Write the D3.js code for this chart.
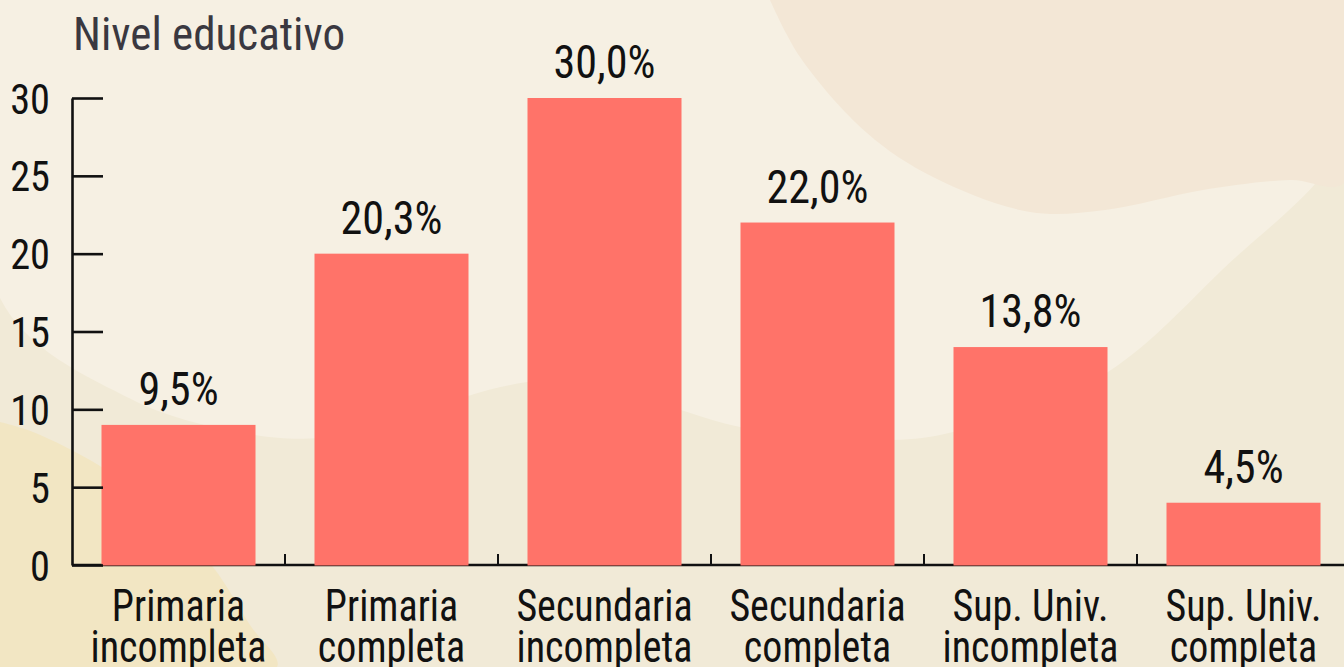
<!DOCTYPE html>
<html>
<head>
<meta charset="utf-8">
<script src="https://cdn.jsdelivr.net/npm/d3@7"></script>
<style>
  html, body { margin: 0; padding: 0; background: #f1ead7; overflow: hidden; }
  text { font-family: "Roboto Condensed", Roboto, "Liberation Sans", sans-serif; }
</style>
</head>
<body>
<div id="chart"></div>
<script>
// Chart data
var categories = ["Primaria incompleta", "Primaria completa", "Secundaria incompleta",
  "Secundaria completa", "Sup. Univ. incompleta", "Sup. Univ. completa"];
var values = [9, 20, 30, 22, 14, 4];
var valueLabels = ["9,5%", "20,3%", "30,0%", "22,0%", "13,8%", "4,5%"];
var yTicks = [0, 5, 10, 15, 20, 25, 30];
var title = "Nivel educativo";

var W = 1344, H = 667;
var margin = { top: 98, right: -6, bottom: 102, left: 72 };

var svg = d3.select("#chart")
  .append("svg")
  .attr("width", W)
  .attr("height", H);

// Decorative background blobs
var curve = d3.line().curve(d3.curveCatmullRom.alpha(0.5));
svg.append("rect").attr("width", W).attr("height", H).attr("fill", "#f1ead7");

svg.append("path")
  .attr("fill", "#f6f0e3")
  .attr("d", curve([[0, 0], [0, 298], [133, 400], [255, 435], [320, 438], [400, 425], [468, 396],
    [527, 382], [590, 377], [681, 410], [740, 427], [820, 437], [893, 440], [953, 432],
    [1100, 377], [1222, 270], [1344, 140], [1344, 0]]) + "Z");

svg.append("path")
  .attr("fill", "#f3e7d6")
  .attr("d", curve([[770, 0], [800, 57], [867, 133], [933, 177], [1030, 212], [1105, 210],
    [1203, 190], [1290, 180], [1344, 183], [1344, 0]]) + "Z");

svg.append("path")
  .attr("fill", "#f2e6c3")
  .attr("d", curve([[0, 422], [33, 432], [100, 466], [160, 510], [213, 567], [250, 625], [277, 667], [0, 667]]) + "Z");

var g = svg.append("g");

// Scales
var x = d3.scaleBand()
  .domain(categories)
  .range([margin.left, W - margin.right])
  .paddingInner(0.277)
  .paddingOuter(0.1385);

var y = d3.scaleLinear()
  .domain([0, 30])
  .range([H - margin.bottom, margin.top]);

// Condensed text: a group at the anchor, squeezed horizontally
function squeezed(parent, px, py, sx) {
  return parent.append("g")
    .attr("transform", "translate(" + px + "," + py + ") scale(" + sx + ",1)");
}

// X axis line with boundary ticks
var x0 = y(0);
g.append("line")
  .attr("x1", margin.left).attr("x2", W)
  .attr("y1", x0).attr("y2", x0)
  .attr("stroke", "#111").attr("stroke-width", 2.6);

g.selectAll(".xtick")
  .data(categories.slice(1))
  .enter()
  .append("line")
  .attr("class", "xtick")
  .attr("x1", function (d) { return x(d) - x.step() * x.paddingInner() / 2; })
  .attr("x2", function (d) { return x(d) - x.step() * x.paddingInner() / 2; })
  .attr("y1", x0).attr("y2", x0 - 11)
  .attr("stroke", "#111").attr("stroke-width", 2);

// Bars
g.selectAll(".bar")
  .data(values)
  .enter()
  .append("rect")
  .attr("class", "bar")
  .attr("x", function (d, i) { return x(categories[i]); })
  .attr("y", function (d) { return y(d); })
  .attr("width", x.bandwidth())
  .attr("height", function (d) { return y(0) - y(d) + 0.5; })
  .attr("fill", "#ff7369");

// Y axis
var yAxis = g.append("g")
  .attr("transform", "translate(" + margin.left + ",0)")
  .call(d3.axisLeft(y).tickValues(yTicks).tickSizeInner(-31).tickSizeOuter(0).tickPadding(22));
yAxis.select(".domain").attr("stroke", "#111").attr("stroke-width", 2.6);
yAxis.selectAll(".tick line").attr("stroke", "#111").attr("stroke-width", 2.6);
yAxis.selectAll(".tick text")
  .attr("fill", "#111")
  .attr("dy", "0.36em")
  .attr("transform", "scale(0.96,1)")
  .attr("x", -22 / 0.96)
  .style("font-size", "42px");

// Value labels
values.forEach(function (d, i) {
  squeezed(g, x(categories[i]) + x.bandwidth() / 2, y(d) - 20, 0.96)
    .append("text")
    .attr("class", "vlabel")
    .attr("text-anchor", "middle")
    .attr("fill", "#111")
    .style("font-size", "46px")
    .text(valueLabels[i]);
});

// Category labels on two lines
categories.forEach(function (d) {
  var t = squeezed(g, x(d) + x.bandwidth() / 2, 0, 0.92)
    .append("text")
    .attr("class", "clabel")
    .attr("text-anchor", "middle")
    .attr("fill", "#111")
    .style("font-size", "43.5px");
  t.append("tspan").attr("x", 0).attr("y", 621).text(d.slice(0, d.lastIndexOf(" ")));
  t.append("tspan").attr("x", 0).attr("y", 662).text(d.slice(d.lastIndexOf(" ") + 1));
});

// Title
squeezed(svg, 73, 50, 0.98)
  .append("text")
  .attr("fill", "#3a3840")
  .style("font-size", "46px")
  .text(title);
</script>
</body>
</html>
